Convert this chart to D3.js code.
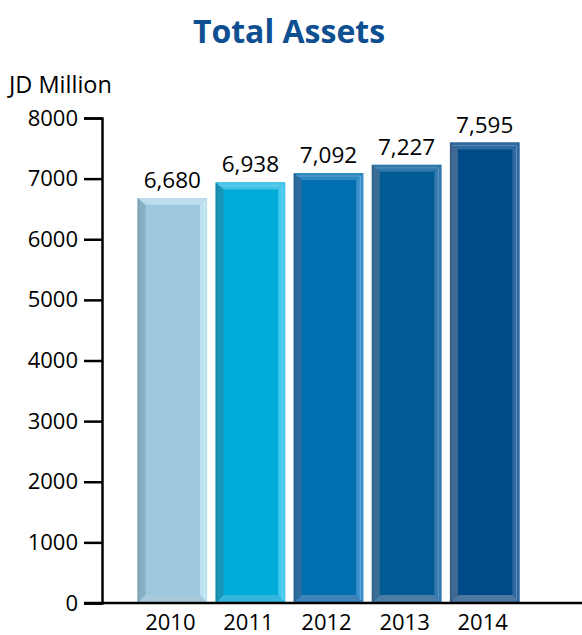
<!DOCTYPE html>
<html>
<head>
<meta charset="utf-8">
<script src="https://cdn.jsdelivr.net/npm/d3@7/dist/d3.min.js"></script>
<style>
  html, body { margin: 0; padding: 0; background: #fff; }
  svg { display: block; font-family: "Open Sans", sans-serif; }
</style>
</head>
<body>
<svg id="chart" width="582" height="635"></svg>
<script>
// Total assets by year, JD million
const years = ["2010", "2011", "2012", "2013", "2014"];
const assets = [6680, 6938, 7092, 7227, 7595];
const yTicks = [0, 1000, 2000, 3000, 4000, 5000, 6000, 7000, 8000];

// Face and bevel shades for each bar
const faceColors   = ["#9cc7dc", "#00abd8", "#006fb0", "#005a94", "#004a88"];
const topColors    = ["#b9dbeb", "#45c3e6", "#2e88c2", "#2e78aa", "#2f6a9f"];
const leftColors   = ["#88b0c4", "#1a95ba", "#2d6d9d", "#3a6e96", "#3f6893"];
const rightColors  = ["#bde2f2", "#40c8ee", "#3a90cd", "#3378ae", "#3068a1"];
const bottomColors = ["#a7cbdd", "#35b4dc", "#3f82b7", "#4b7ea7", "#4e77a2"];

const svg = d3.select("#chart");

const x = d3.scaleBand()
  .domain(years)
  .range([136, 521])
  .paddingInner(0.11)
  .paddingOuter(0.02);

const y = d3.scaleLinear()
  .domain([0, 8000])
  .range([603, 118]);

// Title
svg.append("text")
  .attr("x", 289)
  .attr("y", 43)
  .attr("text-anchor", "middle")
  .attr("font-size", 32)
  .attr("font-weight", 700)
  .attr("fill", "#0d4f91")
  .text("Total Assets");

// Unit label
svg.append("text")
  .attr("x", 9)
  .attr("y", 93)
  .attr("font-size", 23.5)
  .attr("fill", "#000")
  .text("JD Million");

// Bars with bevelled edges
const bevel = { t: 7, l: 8, r: 7, b: 8 };
const bars = svg.append("g");
assets.forEach((v, i) => {
  const x0 = x(years[i]);
  const w = x.bandwidth();
  const y0 = y(v);
  const y1 = y(0);
  const g = bars.append("g");
  const poly = pts => pts.map(p => p.join(",")).join(" ");
  g.append("rect")
    .attr("x", x0).attr("y", y0)
    .attr("width", w).attr("height", y1 - y0)
    .attr("fill", faceColors[i]);
  // top
  g.append("polygon").attr("fill", topColors[i]).attr("points", poly([
    [x0, y0], [x0 + w, y0], [x0 + w - bevel.r, y0 + bevel.t], [x0 + bevel.l, y0 + bevel.t]
  ]));
  // left
  g.append("polygon").attr("fill", leftColors[i]).attr("points", poly([
    [x0, y0], [x0 + bevel.l, y0 + bevel.t], [x0 + bevel.l, y1 - bevel.b], [x0, y1]
  ]));
  // right
  g.append("polygon").attr("fill", rightColors[i]).attr("points", poly([
    [x0 + w, y0], [x0 + w, y1], [x0 + w - bevel.r, y1 - bevel.b], [x0 + w - bevel.r, y0 + bevel.t]
  ]));
  // bottom
  g.append("polygon").attr("fill", bottomColors[i]).attr("points", poly([
    [x0, y1], [x0 + bevel.l, y1 - bevel.b], [x0 + w - bevel.r, y1 - bevel.b], [x0 + w, y1]
  ]));
  // thin highlights along the bevel edges
  g.append("line")
    .attr("x1", x0 + w - 3).attr("x2", x0 + w - 3)
    .attr("y1", y0 + 3).attr("y2", y1 - 3)
    .attr("stroke", "#ffffff").attr("stroke-opacity", 0.25).attr("stroke-width", 1);
  g.append("line")
    .attr("x1", x0 + 3).attr("x2", x0 + w - 3)
    .attr("y1", y0 + 3).attr("y2", y0 + 3)
    .attr("stroke", "#ffffff").attr("stroke-opacity", 0.2).attr("stroke-width", 1);
  g.append("line")
    .attr("x1", x0 + 1).attr("x2", x0 + 1)
    .attr("y1", y0 + 1).attr("y2", y1)
    .attr("stroke", "#000").attr("stroke-opacity", 0.08).attr("stroke-width", 2);
});

// Value labels
svg.append("g")
  .selectAll("text")
  .data(assets)
  .join("text")
  .attr("x", (d, i) => x(years[i]) + x.bandwidth() / 2)
  .attr("y", d => y(d) - 10)
  .attr("text-anchor", "middle")
  .attr("font-size", 22.5)
  .attr("fill", "#000")
  .text(d => d3.format(",")(d));

// Y axis
const yAxis = svg.append("g")
  .attr("transform", "translate(102,0)")
  .call(d3.axisLeft(y).tickValues(yTicks).tickSize(18).tickPadding(6).tickFormat(d3.format("d")));
yAxis.select(".domain").attr("stroke", "#000").attr("stroke-width", 2.5);
yAxis.selectAll(".tick line").attr("stroke", "#000").attr("stroke-width", 2.5);
yAxis.selectAll(".tick text")
  .attr("font-family", "Open Sans, sans-serif")
  .attr("font-size", 22)
  .attr("fill", "#000");

// Baseline across the plot
svg.append("line")
  .attr("x1", 84).attr("x2", 582)
  .attr("y1", y(0)).attr("y2", y(0))
  .attr("stroke", "#000").attr("stroke-width", 2.5);

// Year labels
svg.append("g")
  .selectAll("text")
  .data(years)
  .join("text")
  .attr("x", d => x(d) + x.bandwidth() / 2 - 2)
  .attr("y", 630)
  .attr("text-anchor", "middle")
  .attr("font-size", 22)
  .attr("fill", "#000")
  .text(d => d);
</script>
</body>
</html>
